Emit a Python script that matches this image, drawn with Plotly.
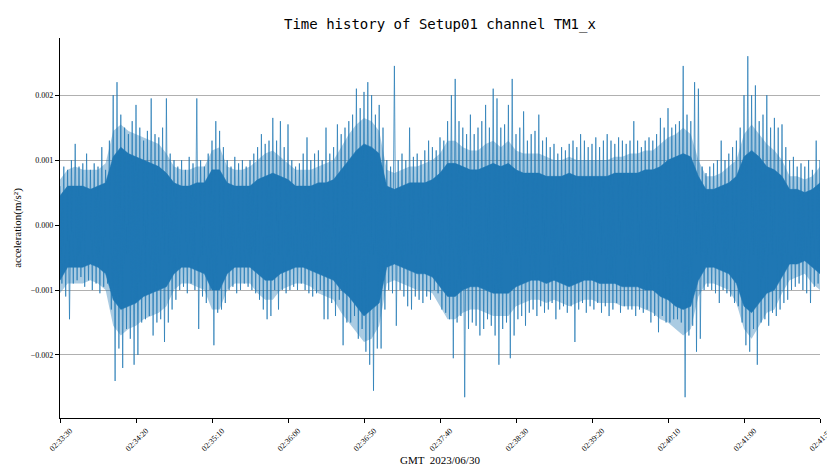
import numpy as np
import pandas as pd
import plotly.graph_objects as go

# ---------------- data (acceleration in units of 1e-3 m/s^2) ----------------
start_time = "2023-06-30 02:33:30"
duration_s = 500
tick_step_s = 50
unit = 1e-3

# envelopes sampled every 5 s (t = 0 .. 500 s)
env_step_s = 5.0
# solid core of the signal
core_hi = [
    0.45, 0.60, 0.60, 0.60, 0.55, 0.60, 0.65, 1.05, 1.20, 1.10,
    1.05, 1.00, 0.95, 0.90, 0.80, 0.65, 0.60, 0.60, 0.65, 0.65,
    0.85, 0.85, 0.65, 0.60, 0.60, 0.60, 0.70, 0.75, 0.80, 0.75,
    0.70, 0.60, 0.60, 0.60, 0.65, 0.65, 0.70, 0.85, 1.00, 1.15,
    1.25, 1.20, 1.10, 0.60, 0.55, 0.60, 0.65, 0.65, 0.65, 0.70,
    0.80, 0.95, 0.95, 0.90, 0.85, 0.85, 0.90, 0.95, 0.90, 0.95,
    0.85, 0.80, 0.80, 0.80, 0.75, 0.75, 0.75, 0.80, 0.75, 0.75,
    0.75, 0.75, 0.75, 0.80, 0.80, 0.80, 0.80, 0.85, 0.85, 0.90,
    1.00, 1.05, 1.10, 1.05, 0.75, 0.55, 0.55, 0.60, 0.65, 0.75,
    1.05, 1.15, 1.05, 0.90, 0.85, 0.75, 0.55, 0.55, 0.50, 0.55,
    0.65,
]
core_lo = [
    -0.85, -0.65, -0.65, -0.65, -0.60, -0.65, -0.75, -1.15, -1.30, -1.25,
    -1.20, -1.10, -1.05, -1.00, -0.95, -0.75, -0.65, -0.65, -0.70, -0.75,
    -1.00, -1.00, -0.75, -0.65, -0.65, -0.65, -0.75, -0.85, -0.85, -0.75,
    -0.70, -0.65, -0.65, -0.70, -0.75, -0.80, -0.85, -1.00, -1.10, -1.25,
    -1.40, -1.30, -1.20, -0.65, -0.60, -0.65, -0.70, -0.75, -0.75, -0.80,
    -0.95, -1.10, -1.10, -1.00, -0.95, -0.95, -1.00, -1.05, -1.05, -1.05,
    -0.95, -0.90, -0.85, -0.85, -0.90, -0.85, -0.90, -0.95, -0.90, -0.85,
    -0.85, -0.90, -0.90, -0.90, -0.95, -0.95, -0.95, -1.00, -1.00, -1.10,
    -1.15, -1.25, -1.30, -1.25, -0.85, -0.65, -0.65, -0.70, -0.75, -0.90,
    -1.25, -1.35, -1.20, -1.05, -1.00, -0.80, -0.60, -0.60, -0.55, -0.65,
    -0.75,
]
# looser fringe around the core
fringe_hi = [
    0.70, 0.85, 0.90, 0.85, 0.85, 0.85, 0.95, 1.45, 1.55, 1.45,
    1.40, 1.35, 1.30, 1.25, 1.10, 0.90, 0.85, 0.85, 0.90, 0.90,
    1.15, 1.20, 0.90, 0.85, 0.85, 0.90, 1.00, 1.10, 1.15, 1.05,
    0.95, 0.85, 0.85, 0.85, 0.90, 0.95, 1.00, 1.20, 1.40, 1.55,
    1.65, 1.60, 1.45, 0.85, 0.80, 0.85, 0.90, 0.90, 0.95, 1.00,
    1.10, 1.30, 1.30, 1.20, 1.15, 1.15, 1.25, 1.30, 1.20, 1.30,
    1.15, 1.10, 1.10, 1.10, 1.05, 1.00, 1.00, 1.05, 1.00, 1.00,
    1.00, 1.00, 1.00, 1.05, 1.05, 1.10, 1.10, 1.15, 1.15, 1.25,
    1.35, 1.40, 1.50, 1.40, 1.00, 0.75, 0.75, 0.80, 0.90, 1.00,
    1.40, 1.55, 1.40, 1.25, 1.15, 1.00, 0.75, 0.75, 0.70, 0.75,
    0.90,
]
fringe_lo = [
    -1.05, -0.90, -0.90, -0.90, -0.85, -0.90, -1.00, -1.55, -1.70, -1.60,
    -1.55, -1.45, -1.40, -1.35, -1.25, -1.00, -0.90, -0.90, -0.95, -1.00,
    -1.30, -1.30, -1.00, -0.90, -0.90, -0.90, -1.05, -1.15, -1.15, -1.00,
    -0.95, -0.90, -0.90, -0.95, -1.05, -1.10, -1.15, -1.35, -1.50, -1.65,
    -1.80, -1.75, -1.55, -0.90, -0.85, -0.90, -0.95, -1.00, -1.00, -1.05,
    -1.25, -1.45, -1.45, -1.35, -1.30, -1.30, -1.35, -1.40, -1.40, -1.40,
    -1.25, -1.20, -1.15, -1.15, -1.20, -1.15, -1.20, -1.25, -1.20, -1.15,
    -1.15, -1.20, -1.20, -1.20, -1.25, -1.25, -1.25, -1.30, -1.35, -1.45,
    -1.50, -1.60, -1.70, -1.60, -1.10, -0.90, -0.90, -0.95, -1.00, -1.20,
    -1.60, -1.75, -1.55, -1.35, -1.30, -1.05, -0.85, -0.80, -0.75, -0.90,
    -1.00,
]

# outer peaks of the signal, sampled every 2.5 s (t = 0 .. 500 s)
peak_step_s = 2.5
peak_hi = [
    0.60, 0.90, 0.85, 1.00, 1.25, 0.90, 0.95, 1.10, 0.85, 0.95,
    0.90, 1.20, 0.85, 1.30, 2.00, 2.20, 1.70, 1.50, 1.40, 1.60,
    1.85, 1.50, 1.30, 1.45, 1.95, 1.40, 1.35, 1.50, 1.95, 1.10,
    1.00, 0.90, 1.00, 0.85, 1.05, 0.95, 1.95, 1.00, 0.90, 1.10,
    1.30, 1.60, 1.45, 1.20, 1.00, 0.90, 1.05, 0.95, 1.00, 0.90,
    1.00, 1.10, 1.20, 1.40, 1.25, 1.30, 1.65, 1.30, 1.60, 1.20,
    1.55, 1.00, 0.90, 0.95, 1.10, 1.35, 1.00, 1.10, 1.15, 1.00,
    1.50, 1.10, 1.20, 1.55, 1.40, 1.50, 1.60, 1.70, 2.10, 1.80,
    2.05, 2.20, 2.00, 1.70, 1.85, 1.50, 1.00, 0.90, 2.45, 1.00,
    1.10, 1.00, 1.50, 1.05, 1.10, 1.00, 1.15, 1.30, 1.20, 1.15,
    1.35, 1.30, 1.60, 2.00, 2.25, 1.60, 1.50, 1.40, 1.70, 1.40,
    1.50, 1.60, 1.85, 1.50, 2.10, 1.95, 1.50, 1.55, 1.85, 2.25,
    1.40, 1.50, 1.75, 1.30, 1.40, 1.45, 1.70, 1.30, 1.35, 1.20,
    1.25, 1.10, 1.20, 1.15, 1.25, 1.30, 1.20, 1.40, 1.30, 1.20,
    1.25, 1.35, 1.20, 1.30, 1.40, 1.30, 1.25, 1.35, 1.30, 1.25,
    1.30, 1.60, 1.30, 1.20, 1.30, 1.35, 1.30, 1.40, 1.65, 1.50,
    1.80, 1.50, 1.55, 1.60, 2.45, 1.70, 1.60, 2.20, 2.10, 0.90,
    0.80, 0.90, 0.95, 1.00, 1.30, 1.00, 1.10, 1.20, 1.30, 1.50,
    2.00, 2.60, 2.00, 2.15, 1.60, 1.70, 2.00, 1.50, 1.65, 1.50,
    1.55, 1.20, 1.00, 1.05, 0.90, 0.95, 0.90, 1.00, 0.85, 1.30,
    1.00,
]
peak_lo = [
    -0.90, -1.10, -1.45, -0.90, -0.85, -0.80, -0.95, -0.85, -1.00, -0.90,
    -1.05, -0.95, -0.90, -1.30, -2.40, -1.90, -2.20, -1.60, -1.75, -2.15,
    -2.00, -1.50, -1.45, -1.40, -1.70, -1.50, -1.45, -1.80, -1.50, -1.30,
    -1.15, -1.00, -0.95, -1.05, -0.90, -1.00, -1.60, -1.10, -1.20, -1.00,
    -1.85, -1.35, -1.30, -1.20, -1.00, -0.95, -1.05, -1.00, -0.90, -0.95,
    -1.00, -1.05, -1.15, -1.30, -1.45, -1.40, -1.00, -1.30, -1.00, -1.05,
    -1.00, -0.95, -1.00, -0.90, -1.00, -1.05, -1.10, -1.05, -1.00, -1.45,
    -1.45, -1.20, -1.40, -1.15, -1.85, -1.50, -1.50, -1.40, -1.75, -1.60,
    -1.95, -2.15, -2.55, -1.90, -1.90, -1.30, -1.00, -1.05, -1.55, -1.00,
    -1.10, -1.25, -1.30, -1.10, -1.15, -1.20, -1.10, -1.15, -1.00, -1.05,
    -1.30, -1.35, -1.45, -2.05, -1.50, -1.40, -2.65, -1.60, -1.50, -1.55,
    -1.70, -1.60, -1.45, -1.55, -1.70, -2.15, -1.60, -1.50, -2.05, -1.70,
    -1.45, -1.40, -1.55, -1.35, -1.30, -1.40, -1.25, -1.35, -1.30, -1.20,
    -1.45, -1.30, -1.25, -1.35, -1.25, -1.80, -1.30, -1.20, -1.35, -1.25,
    -1.30, -1.20, -1.35, -1.25, -1.40, -1.30, -1.20, -1.35, -1.25, -1.30,
    -1.30, -1.40, -1.30, -1.35, -1.30, -1.50, -1.40, -1.65, -1.40, -1.50,
    -1.50, -1.45, -1.45, -1.50, -2.65, -1.70, -1.55, -1.95, -1.75, -1.00,
    -0.95, -1.00, -1.05, -1.20, -1.00, -1.05, -1.10, -1.20, -1.25, -1.50,
    -1.85, -1.95, -1.60, -2.15, -1.50, -1.45, -1.55, -1.35, -1.40, -1.30,
    -1.20, -1.15, -1.00, -0.95, -0.90, -1.00, -1.05, -1.20, -0.95, -0.90,
    -0.85,
]

y_ticks = [-0.002, -0.001, 0.0, 0.001, 0.002]

# ---------------- build traces ----------------
t0 = pd.Timestamp(start_time)
t_env = list(t0 + pd.to_timedelta(np.arange(len(core_hi)) * env_step_s, unit="s"))


def band(hi, lo):
    xs = t_env + t_env[::-1]
    ys = [v * unit for v in hi] + [v * unit for v in lo[::-1]]
    return xs, ys


zig_x, zig_y = [], []
for i, (hi, lo) in enumerate(zip(peak_hi, peak_lo)):
    s = i * peak_step_s
    zig_x.append(t0 + pd.Timedelta(seconds=s))
    zig_y.append(hi * unit)
    zig_x.append(t0 + pd.Timedelta(seconds=s + peak_step_s / 2))
    zig_y.append(lo * unit)

blue = "#1f77b4"
fig = go.Figure()
fx, fy = band(fringe_hi, fringe_lo)
fig.add_trace(go.Scatter(x=fx, y=fy, mode="lines", fill="toself",
                         fillcolor="rgba(31,119,180,0.38)",
                         line=dict(width=0),
                         hoverinfo="skip", showlegend=False))
cx, cy = band(core_hi, core_lo)
fig.add_trace(go.Scatter(x=cx, y=cy, mode="lines", fill="toself",
                         fillcolor=blue, line=dict(color=blue, width=0.5),
                         hoverinfo="skip", showlegend=False))
fig.add_trace(go.Scatter(x=zig_x, y=zig_y, mode="lines",
                         line=dict(color="rgba(31,119,180,0.7)", width=1),
                         hoverinfo="skip", showlegend=False))

tick_times = [t0 + pd.Timedelta(seconds=s) for s in range(0, duration_s + 1, tick_step_s)]
tick_text = [t.strftime("%H:%M:%S") for t in tick_times]

serif = "Liberation Serif, Times New Roman, serif"
fig.update_layout(
    width=827, height=466,
    margin=dict(l=60, r=7, t=38, b=48),
    paper_bgcolor="white", plot_bgcolor="white",
    title=dict(text="Time history of Setup01 channel TM1_x",
               font=dict(family="DejaVu Sans Mono", size=14, color="black"),
               x=0.532, xanchor="center", y=0.948, yanchor="middle"),
    xaxis=dict(type="date", range=[tick_times[0], tick_times[-1]],
               tickvals=tick_times, ticktext=tick_text, tickangle=-45,
               ticklabelshift=10, ticklabeloverflow="allow",
               tickfont=dict(family=serif, size=8, color="black"),
               showgrid=False, zeroline=False, showline=True,
               linecolor="black", linewidth=1.2, automargin=False,
               ticks="outside", ticklen=4, tickcolor="black",
               title=dict(text="GMT  2023/06/30",
                          font=dict(family=serif, size=11, color="black"),
                          standoff=8)),
    yaxis=dict(range=[-0.00297, 0.00288], tickvals=y_ticks,
               ticktext=[f"{v:.3f}".replace("-", "\u2212") for v in y_ticks],
               tickfont=dict(family=serif, size=8, color="black"),
               showgrid=True, gridcolor="#b0b0b0", gridwidth=1,
               zeroline=False, showline=True, automargin=False,
               linecolor="black", linewidth=1.2,
               ticks="outside", ticklen=4, tickcolor="black",
               title=dict(text="acceleration(m/s²)",
                          font=dict(family=serif, size=11, color="black"),
                          standoff=6)),
)

fig.write_html("out.html")
